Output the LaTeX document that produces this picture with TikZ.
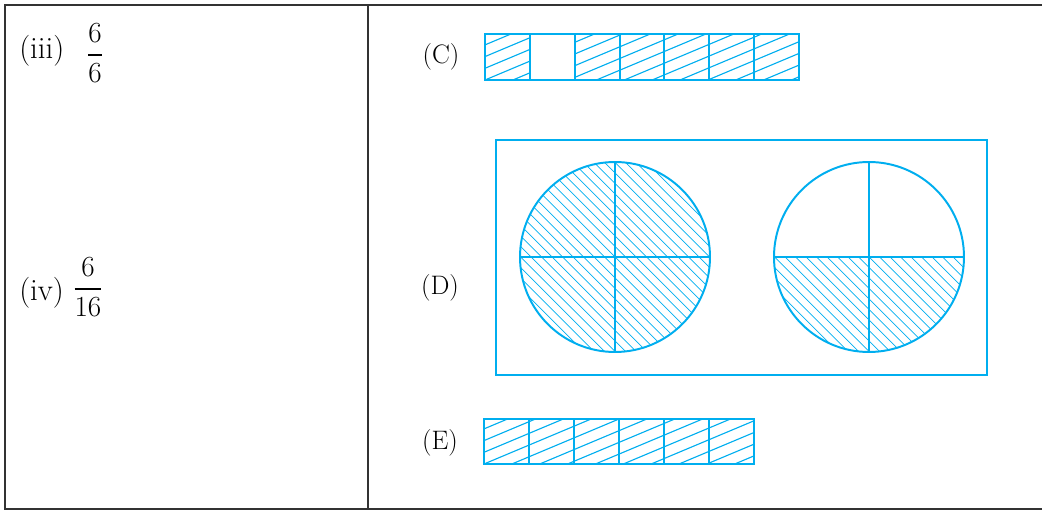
\documentclass[tikz,border=0pt]{standalone}
\usepackage{amsmath}
\usepackage{tikz}

\definecolor{figblue}{RGB}{0,174,239}
\definecolor{ruledark}{RGB}{51,51,51}

\begin{document}
\begin{tikzpicture}[x=0.025cm,y=-0.025cm,
  tabline/.style={draw=ruledark,line width=1.5pt},
  figline/.style={draw=figblue,line width=1.4pt},
  barhatch/.style={draw=figblue,line width=0.8pt},
  roundhatch/.style={draw=figblue,line width=0.5pt},
  lefttext/.style={inner sep=0pt,font=\fontsize{22}{26}\selectfont},
  figlabel/.style={inner sep=0pt,font=\fontsize{19}{22}\selectfont}]
  \useasboundingbox (0,0) rectangle (1042,511);
  % Table frame
  \draw[tabline] (1050,5) -- (5,5) -- (5,509) -- (1050,509);
  \draw[tabline] (368,5) -- (368,509);
  % Left column
  \node[lefttext,anchor=west] (iii) at (19,51) {(iii)};
  \node[lefttext] (sixsix) at (95,53) {$\dfrac{6}{6}$};
  \node[lefttext,anchor=west] (iv) at (19,293) {(iv)};
  \node[lefttext] (sixteen) at (88,287) {$\dfrac{6}{16}$};
  % Labels
  \node[figlabel] (labC) at (441,57) {(C)};
  \node[figlabel] (labD) at (440,288) {(D)};
  \node[figlabel] (labE) at (440,443) {(E)};
  % Bar C, second part left empty
  \begin{scope}
    \clip (485,34) rectangle (529.86,80) (574.71,34) rectangle (799,80);
    \foreach \k in {-13,...,5}
      \draw[barhatch] (485,80-\k*11.7) -- ++(330,-0.42*330);
  \end{scope}
  \draw[figline] (485,34) rectangle (799,80);
  \foreach \i in {1,...,6}
    \draw[figline] (485+\i*44.857,34) -- (485+\i*44.857,80);
  % Bar E
  \begin{scope}
    \clip (484,419) rectangle (754,464);
    \foreach \k in {-11,...,5}
      \draw[barhatch] (484,464-\k*11.7) -- ++(290,-0.42*290);
  \end{scope}
  \draw[figline] (484,419) rectangle (754,464);
  \foreach \i in {1,...,5}
    \draw[figline] (484+\i*45,419) -- (484+\i*45,464);
  % Box D with two circles
  \draw[figline] (496,140) rectangle (987,375);
  \begin{scope}
    \clip (615,257) circle[radius=95];
    \foreach \k in {-14,...,14}
      \draw[roundhatch] (615+\k*10.5-110,257-110) -- ++(220,220);
  \end{scope}
  \begin{scope}
    \clip (869,257) circle[radius=95];
    \clip (770,257) rectangle (968,356);
    \foreach \k in {-14,...,14}
      \draw[roundhatch] (869+\k*10.5-110,257-110) -- ++(220,220);
  \end{scope}
  \foreach \cx in {615,869} {
    \draw[figline] (\cx,257) circle[radius=95];
    \draw[figline] (\cx-95,257) -- (\cx+95,257);
    \draw[figline] (\cx,162) -- (\cx,352);
  }
\end{tikzpicture}
\end{document}
